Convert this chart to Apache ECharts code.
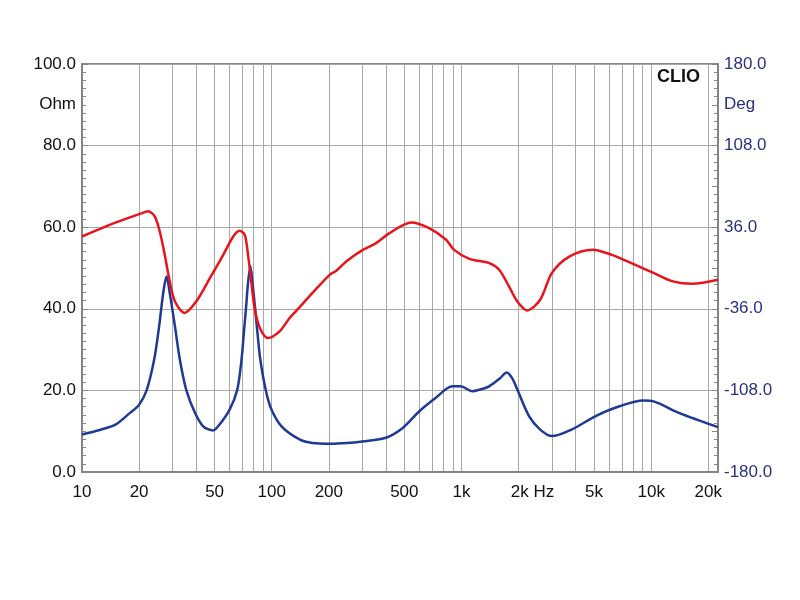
<!doctype html>
<html lang="en">
<head>
    <meta charset="UTF-8">
    <title>CLIO impedance</title>
    <script src="https://cdn.jsdelivr.net/npm/echarts@6/dist/echarts.min.js"></script>
    <style>
        html, body { margin: 0; padding: 0; background: #fff; }
        #chart { width: 800px; height: 600px; }
    </style>
</head>
<body>
<div id="chart"></div>
<script type="text/javascript">
    // impedance modulus, Ohm (left axis, blue)
    var ohmFreq = [10, 12.4, 15, 17.9, 20, 21.9, 24, 25.5, 26.8, 27.9, 29, 30.9, 32.8, 35.5, 39.4, 43.5, 49, 52.2,
        60, 65.7, 69.3, 71.3, 73.2, 75, 77.2, 79.2, 81.7, 84.1, 87.1, 93.1, 99.7, 112.6, 140, 164, 202, 250, 300,
        400, 490, 600, 733, 895, 990, 1140, 1250, 1400, 1600, 1730, 1850, 1970, 2270, 2600, 3000, 3800, 5100,
        6800, 9100, 10300, 14000, 22500];
    var ohmValues = [9.2, 10.3, 11.6, 14.5, 16.5, 20, 27.5, 35.7, 43.9, 47.9, 43.9, 35.7, 27.5, 20, 14.5, 11.2, 10.2, 11.2,
        15.3, 20, 27.5, 34.1, 40.2, 46.3, 50.4, 46.3, 40.2, 34.1, 27.5, 20, 15.3, 11.2, 8, 7.1, 6.9, 7.1, 7.5,
        8.4, 10.8, 14.9, 18.2, 21, 21, 19.8, 20.2, 21, 23, 24.4, 23, 20.2, 13.7, 10.4, 8.8, 10.4, 13.7,
        16.1, 17.5, 17.3, 14.5, 11];

    // impedance phase, Deg (right axis, red)
    var degFreq = [10, 15, 20.2, 22.3, 24.2, 25.7, 27.3, 29, 30.9, 34.8, 40, 47.2, 55.5, 62.7, 67.8, 72.1,
        75, 78, 81.2, 86.6, 95.5, 110, 124, 134, 164, 202, 219, 247, 302, 355, 420,
        545, 675, 830, 915, 1100, 1400, 1580, 1780, 1970, 2220, 2600, 3000, 3700, 4900, 6200, 8200, 10300,
        13000, 16500, 22500];
    var degValues = [27.8, 40, 47.8, 50, 45.4, 32.2, 11.6, -11.8, -29.5, -39.6, -29.5, -9, 11.6, 27.8, 32.8, 29.3,
        11.6, -11.8, -35.3, -53, -61.8, -55.9, -44.3, -38.3, -22, -6, -2.5, 5.8, 16, 22, 31,
        40.2, 35.2, 24.9, 16, 8, 4.3, -1.5, -16.2, -29.5, -37.4, -28, -4.3, 10.1, 16.2, 11.6, 2.9, -4.3,
        -11.8, -14, -10.4];

    // frequency grid lines and labelled frequencies
    var gridFreq = [20, 30, 40, 50, 60, 70, 80, 90, 100, 200, 300, 400, 500, 600, 700, 800, 900, 1000,
        2000, 3000, 4000, 5000, 6000, 7000, 8000, 9000, 10000, 20000];
    var labelFreq = [10, 20, 50, 100, 200, 500, 1000, 2000, 5000, 10000, 20000];

    var toPairs = function (xs, ys) {
        var out = [];
        xs.forEach(function (x, i) {
            out.push([x, ys[i]]);
        });
        return out;
    };

    var freqLabel = function (v) {
        if (v === 2000) return '{pad| }2k Hz';
        if (v >= 1000) return (v / 1000) + 'k';
        return '' + v;
    };

    var font = 'Liberation Sans, Arial, sans-serif';
    var gridColor = '#a8a8a8';
    var frameColor = '#858585';

    var myChart = echarts.init(document.getElementById('chart'));
    var option = {
        backgroundColor: '#fff',
        animation: false,
        grid: {
            left: 82, right: 82, top: 64, bottom: 128,
            show: true, borderColor: frameColor, borderWidth: 2
        },
        xAxis: {
            type: 'log',
            logBase: 10,
            min: 10,
            max: 22500,
            axisLine: {show: true, lineStyle: {color: frameColor, width: 2}},
            axisTick: {show: false, customValues: gridFreq},
            splitLine: {show: true, lineStyle: {color: gridColor, width: 1}},
            minorTick: {show: false},
            axisLabel: {
                customValues: labelFreq,
                margin: 12,
                color: '#111',
                fontFamily: font,
                fontSize: 17,
                formatter: freqLabel,
                rich: {pad: {width: 28}}
            }
        },
        yAxis: [
            {
                // Ohm, left
                type: 'value', position: 'left',
                min: 0, max: 100, interval: 20,
                axisLine: {show: true, lineStyle: {color: frameColor, width: 2}},
                axisTick: {show: true, inside: true, length: 6, lineStyle: {color: frameColor}},
                minorTick: {show: true, splitNumber: 10, length: 4, lineStyle: {color: frameColor}},
                splitLine: {show: true, lineStyle: {color: gridColor, width: 1}},
                axisLabel: {
                    margin: 6, color: '#111', fontFamily: font, fontSize: 17,
                    formatter: function (v) { return v.toFixed(1); }
                }
            },
            {
                // Deg, right
                type: 'value', position: 'right',
                min: -180, max: 180, interval: 36,
                axisLine: {show: true, lineStyle: {color: frameColor, width: 2}},
                axisTick: {show: true, inside: true, length: 6, lineStyle: {color: frameColor}},
                minorTick: {show: true, splitNumber: 5, length: 4, lineStyle: {color: frameColor}},
                splitLine: {show: false},
                axisLabel: {
                    margin: 6, color: '#2a3180', fontFamily: font, fontSize: 17,
                    formatter: function (v) {
                        if (v === 144) return 'Deg';
                        if ((v + 180) % 72 === 0) return v.toFixed(1);
                        return '';
                    }
                }
            },
            {
                // unit label "Ohm" between 80 and 100
                type: 'value', position: 'left',
                min: 0, max: 100, interval: 10,
                axisLine: {show: false}, axisTick: {show: false}, splitLine: {show: false},
                axisLabel: {
                    margin: 6, color: '#111', fontFamily: font, fontSize: 17,
                    formatter: function (v) { return v === 90 ? 'Ohm' : ''; }
                }
            }
        ],
        graphic: [{
            type: 'text', left: 657, top: 68, z: 10,
            style: {text: 'CLIO', fill: '#111', font: 'bold 18px ' + font}
        }],
        series: [
            {
                name: 'Ohm', type: 'line', yAxisIndex: 0,
                data: toPairs(ohmFreq, ohmValues),
                showSymbol: false, smooth: 0.3,
                lineStyle: {color: '#1f3a94', width: 2.5},
                z: 3
            },
            {
                name: 'Deg', type: 'line', yAxisIndex: 1,
                data: toPairs(degFreq, degValues),
                showSymbol: false, smooth: 0.3,
                lineStyle: {color: '#e8141b', width: 2.5},
                z: 4
            }
        ]
    };
    myChart.setOption(option);
</script>
</body>
</html>
